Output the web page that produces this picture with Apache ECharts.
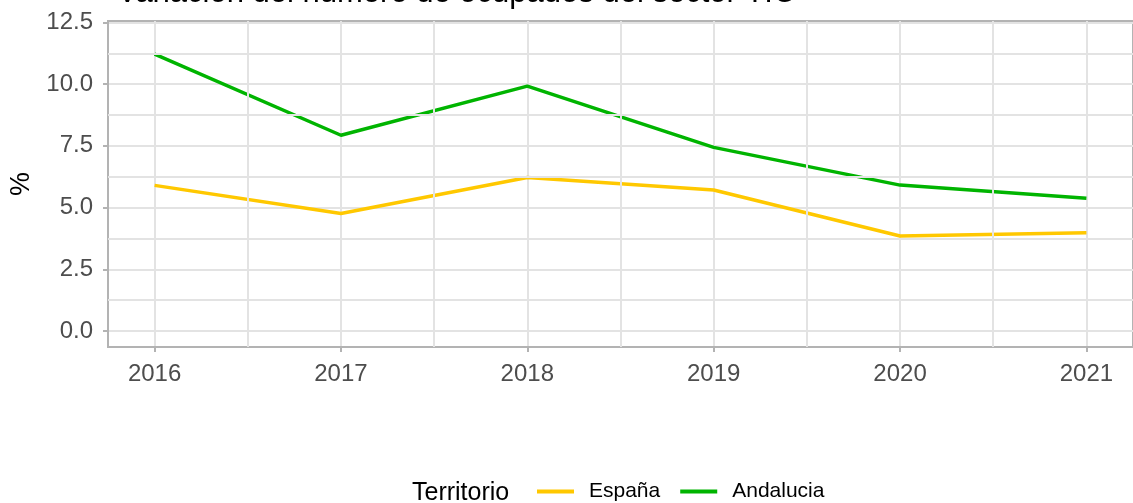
<!DOCTYPE html>
<html>
<head>
<meta charset="utf-8">
<script src="https://cdn.jsdelivr.net/npm/echarts@6/dist/echarts.min.js"></script>
<style>
  html, body { margin: 0; padding: 0; background: #fff; }
  #chart { width: 1133px; height: 503px; }
</style>
</head>
<body>
<div id="chart"></div>
<script>
// data
const years = [2016, 2017, 2018, 2019, 2020, 2021];
const espana = [5.90, 4.76, 6.22, 5.71, 3.85, 3.98];
const andalucia = [11.22, 7.93, 9.92, 7.44, 5.91, 5.38];

const yTicks = [0, 2.5, 5, 7.5, 10, 12.5];
const yMinor = [1.25, 3.75, 6.25, 8.75, 11.25];
const xMinor = [2016.5, 2017.5, 2018.5, 2019.5, 2020.5];

const gridColor = "#e3e3e3";
const borderColor = "#b3b3b3";
const font = "'Liberation Sans', Arial, sans-serif";

const chart = echarts.init(document.getElementById("chart"));

const minorLines = [
  ...yMinor.map((v) => ({ yAxis: v })),
  ...xMinor.map((v) => ({ xAxis: v })),
];

chart.setOption({
  animation: false,
  title: {
    text: "Variación del número de ocupados del sector TIC",
    left: 112,
    top: -27,
    textStyle: { fontFamily: font, fontSize: 31, fontWeight: "normal", color: "#000" },
  },
  grid: {
    left: 107, right: -11, top: 21, bottom: 156,
    show: true, borderColor: borderColor, borderWidth: 2,
  },
  legend: {
    left: 532,
    top: 476,
    icon: "rect",
    itemWidth: 37,
    itemHeight: 4,
    itemGap: 20,
    textStyle: { fontFamily: font, fontSize: 21, color: "#000", padding: [8, 0, 0, 10] },
    data: ["España", "Andalucia"],
  },
  graphic: [
    {
      type: "text",
      left: 412,
      top: 481,
      style: { text: "Territorio", fontFamily: font, fontSize: 25, fill: "#000" },
    },
  ],
  xAxis: {
    type: "value",
    min: 2015.75,
    max: 2021.25,
    axisLine: { show: true, onZero: false, lineStyle: { color: borderColor, width: 2 } },
    axisTick: { show: true, length: 5, customValues: years, lineStyle: { color: borderColor, width: 2 } },
    axisLabel: {
      customValues: years,
      margin: 15,
      fontFamily: font,
      fontSize: 24,
      color: "#4d4d4d",
      formatter: (v) => String(v),
    },
    splitLine: { show: true, lineStyle: { color: gridColor, width: 2 } },
  },
  yAxis: {
    type: "value",
    min: -0.65,
    max: 12.56,
    name: "%",
    nameLocation: "middle",
    nameGap: 73,
    nameRotate: 90,
    nameTextStyle: { fontFamily: font, fontSize: 27, color: "#000" },
    axisLine: { show: true, lineStyle: { color: borderColor, width: 2 } },
    axisTick: { show: true, length: 5, customValues: yTicks, lineStyle: { color: borderColor, width: 2 } },
    axisLabel: {
      customValues: yTicks,
      margin: 15,
      fontFamily: font,
      fontSize: 24,
      color: "#4d4d4d",
      formatter: (v) => v.toFixed(1),
    },
    splitLine: { show: true, lineStyle: { color: gridColor, width: 2 } },
  },
  series: [
    {
      name: "grid-minor",
      type: "line",
      data: [],
      silent: true,
      z: 1,
      markLine: {
        silent: true,
        symbol: "none",
        label: { show: false },
        lineStyle: { color: gridColor, width: 2, type: "solid" },
        data: minorLines,
      },
    },
    {
      name: "España",
      type: "line",
      data: years.map((y, i) => [y, espana[i]]),
      showSymbol: false,
      lineStyle: { color: "#ffc800", width: 3.5 },
      itemStyle: { color: "#ffc800" },
      z: 3,
    },
    {
      name: "Andalucia",
      type: "line",
      data: years.map((y, i) => [y, andalucia[i]]),
      showSymbol: false,
      lineStyle: { color: "#00b400", width: 3.5 },
      itemStyle: { color: "#00b400" },
      z: 3,
    },
  ],
});
</script>
</body>
</html>
